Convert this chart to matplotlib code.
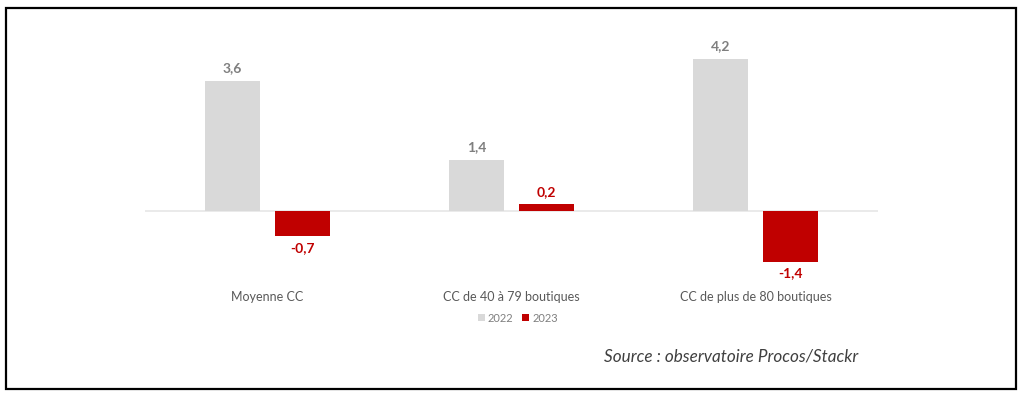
import matplotlib.pyplot as plt
from matplotlib.patches import Rectangle
import numpy as np

categories = ['Moyenne CC', 'CC de 40 à 79 boutiques', 'CC de plus de 80 boutiques']
series_names = ['2022', '2023']
values_2022 = [3.6, 1.4, 4.2]
values_2023 = [-0.7, 0.2, -1.4]

grey = '#d9d9d9'
red = '#c00000'
text_grey = '#595959'

plt.rcParams['font.family'] = ['Lato', 'DejaVu Sans']

fig = plt.figure(figsize=(10.24, 4.0), dpi=100)
ax = fig.add_axes([145 / 1024, 0.292, 733 / 1024, 0.596])

x = np.arange(len(categories))
w = 0.225
off = 0.143
ax.bar(x - off, values_2022, w, color=grey, label=series_names[0])
ax.bar(x + off, values_2023, w, color=red, label=series_names[1])

def fmt(v):
    return f'{v:.1f}'.replace('.', ',')

# étiquettes de valeurs
for xi, v in zip(x, values_2022):
    ax.annotate(fmt(v), (xi - off, v), xytext=(0, 5 if v >= 0 else -5),
                textcoords='offset points', ha='center',
                va='bottom' if v >= 0 else 'top',
                fontsize=10, fontweight='bold', color='#7f7f7f')
for xi, v in zip(x, values_2023):
    ax.annotate(fmt(v), (xi + off, v), xytext=(0, 4 if v >= 0 else -4),
                textcoords='offset points', ha='center',
                va='bottom' if v >= 0 else 'top',
                fontsize=10, fontweight='bold', color=red)

ax.axhline(0, color='#e6e6e6', linewidth=1.2, zorder=0)
ax.set_xlim(-0.5, 2.5)
ax.set_ylim(-2.0, 4.6)
for s in ax.spines.values():
    s.set_visible(False)
ax.set_yticks([])
ax.set_xticks([])

# libellés des catégories sous l'axe
for xi, c in zip(x, categories):
    fig.text((145 + 244.3 * (xi + 0.5)) / 1024, 1 - 297 / 400, c,
             ha='center', va='center', fontsize=9, color=text_grey)

leg = fig.legend(loc='center', bbox_to_anchor=(518 / 1024, 1 - 318 / 400), ncol=2,
                 frameon=False, fontsize=8, handlelength=0.6, handleheight=0.6,
                 handletextpad=0.3, columnspacing=0.8)
for t in leg.get_texts():
    t.set_color('#7f7f7f')

fig.text(731 / 1024, 1 - 357 / 400, 'Source : observatoire Procos/Stackr',
         ha='center', va='center', fontsize=12.3, style='italic', color='#404040')

# cadre
fig.patches.append(Rectangle((6 / 1024, 1 - 389 / 400), 1010 / 1024, 381 / 400,
                             transform=fig.transFigure, fill=False,
                             edgecolor='black', linewidth=1.6))

fig.savefig('out.png', dpi=100)
